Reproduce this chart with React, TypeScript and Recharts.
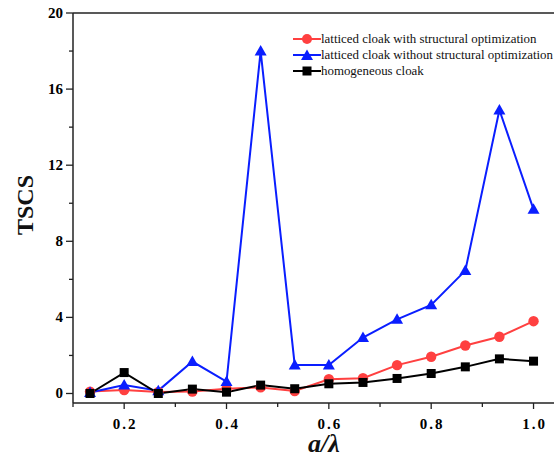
import React from 'react';
import { LineChart, Line, XAxis, YAxis, ReferenceLine } from 'recharts';

const xValues = [0.1333, 0.2, 0.2667, 0.3333, 0.4, 0.4667, 0.5333, 0.6, 0.6667, 0.7333, 0.8, 0.8667, 0.9333, 1.0];
const withOpt = [0.1, 0.18, 0.08, 0.1, 0.25, 0.32, 0.13, 0.75, 0.8, 1.49, 1.93, 2.52, 2.98, 3.8];
const withoutOpt = [0.05, 0.45, 0.15, 1.68, 0.63, 18.0, 1.5, 1.5, 2.94, 3.9, 4.66, 6.46, 14.9, 9.68];
const homogeneous = [0.0, 1.1, 0.0, 0.23, 0.07, 0.44, 0.25, 0.51, 0.58, 0.79, 1.05, 1.4, 1.82, 1.7];

const xTicks = [0.1, 0.2, 0.3, 0.4, 0.5, 0.6, 0.7, 0.8, 0.9, 1.0];
const xLabelTicks = [0.2, 0.4, 0.6, 0.8, 1.0];
const yTicks = [0, 2, 4, 6, 8, 10, 12, 14, 16, 18, 20];
const yLabelTicks = [0, 4, 8, 12, 16, 20];

const seriesNames = [
  'latticed cloak with structural optimization',
  'latticed cloak without structural optimization',
  'homogeneous cloak',
];

const data = xValues.map((x, i) => ({
  x,
  a: withOpt[i],
  b: withoutOpt[i],
  c: homogeneous[i],
}));

const RED = '#ff4040';
const BLUE = '#0a1eff';
const BLACK = '#000000';
const FONT = '"Liberation Serif", "Times New Roman", serif';

const isLabel = (v: number, list: number[]) => list.some((t) => Math.abs(t - v) < 1e-6);

const XTick = (props: any) => {
  const { x, y, payload } = props;
  const major = isLabel(payload.value, xLabelTicks);
  return (
    <g>
      <line x1={x} x2={x} y1={y - 8} y2={y - 8 + (major ? 6 : 4)} stroke="#222" strokeWidth={1.3} />
      {major && (
        <text x={x + 1} y={y + 18} textAnchor="middle" fontFamily={FONT} fontWeight="bold" fontSize={15} letterSpacing={2} fill="#000">
          {payload.value.toFixed(1)}
        </text>
      )}
    </g>
  );
};

const YTick = (props: any) => {
  const { x, y, payload } = props;
  const major = isLabel(payload.value, yLabelTicks);
  return (
    <g>
      <line x1={x + 8} x2={x + 8 - (major ? 7 : 4)} y1={y} y2={y} stroke="#222" strokeWidth={1.3} />
      {major && (
        <text x={x - 2} y={y + 5} textAnchor="end" fontFamily={FONT} fontWeight="bold" fontSize={15} fill="#000">
          {payload.value}
        </text>
      )}
    </g>
  );
};

const CircleDot = (props: any) => {
  const { cx, cy } = props;
  if (cx == null || cy == null) return <g />;
  return <circle cx={cx} cy={cy} r={5.2} fill={RED} stroke="none" />;
};
const TriDot = (props: any) => {
  const { cx, cy } = props;
  if (cx == null || cy == null) return <g />;
  const s = 6;
  return <polygon points={`${cx},${cy - s} ${cx - s},${cy + s * 0.75} ${cx + s},${cy + s * 0.75}`} fill={BLUE} stroke="none" />;
};
const SquareDot = (props: any) => {
  const { cx, cy } = props;
  if (cx == null || cy == null) return <g />;
  return <rect x={cx - 4.5} y={cy - 4.5} width={9} height={9} fill={BLACK} stroke="none" />;
};

const LegendIcon = ({ color, kind }: { color: string; kind: string }) => (
  <svg width={28} height={12} style={{ display: 'block', flex: 'none' }}>
    <line x1={0} x2={28} y1={6} y2={6} stroke={color} strokeWidth={2} />
    {kind === 'circle' && <circle cx={14} cy={6} r={5} fill={color} />}
    {kind === 'tri' && <polygon points="14,0.5 8,11 20,11" fill={color} />}
    {kind === 'square' && <rect x={9.5} y={1.5} width={9} height={9} fill={color} />}
  </svg>
);

const LegendBox = () => {
  const items = [
    { color: RED, kind: 'circle', name: seriesNames[0] },
    { color: BLUE, kind: 'tri', name: seriesNames[1] },
    { color: BLACK, kind: 'square', name: seriesNames[2] },
  ];
  return (
    <div style={{ position: 'absolute', left: 293, top: 31, fontFamily: FONT, fontSize: 12.9, color: '#111', lineHeight: '16px' }}>
      {items.map((it) => (
        <div key={it.name} style={{ whiteSpace: 'nowrap', display: 'flex', alignItems: 'center', height: 16 }}>
          <LegendIcon color={it.color} kind={it.kind} />
          <span>{it.name}</span>
        </div>
      ))}
    </div>
  );
};

export default function App() {
  return (
    <div style={{ position: 'absolute', left: 0, top: 0, width: 554, height: 457, background: '#fff', overflow: 'hidden' }}>
      <LineChart width={554} height={457} data={data} margin={{ top: 13, right: 0, bottom: 0, left: 0 }}>
        <XAxis
          dataKey="x"
          type="number"
          domain={[0.1, 1.04]}
          ticks={xTicks}
          interval={0}
          height={54}
          axisLine={{ stroke: '#222', strokeWidth: 1.5 }}
          tickLine={false}
          tick={<XTick />}
          allowDataOverflow
          label={(p: any) => {
            const vb = p.viewBox;
            return (
              <text x={324} y={vb.y + 49} textAnchor="middle" fontFamily={FONT} fontSize={26} fontWeight="bold" fontStyle="italic" fill="#111">
                a/λ
              </text>
            );
          }}
        />
        <YAxis
          type="number"
          domain={[-0.5, 20]}
          ticks={yTicks}
          interval={0}
          width={73}
          axisLine={{ stroke: '#222', strokeWidth: 1.5 }}
          tickLine={false}
          tick={<YTick />}
          allowDataOverflow
          label={() => {
            const cx = 25;
            const cy = 205;
            return (
              <text x={cx} y={cy} transform={`rotate(-90 ${cx} ${cy})`} textAnchor="middle" dominantBaseline="central" fontFamily={FONT} fontSize={24} fontWeight="bold" fill="#111">
                TSCS
              </text>
            );
          }}
        />
        <ReferenceLine y={20} stroke="#222" strokeWidth={1.5} />
        <Line dataKey="a" name={seriesNames[0]} stroke={RED} strokeWidth={2} dot={<CircleDot />} activeDot={false} isAnimationActive={false} />
        <Line dataKey="b" name={seriesNames[1]} stroke={BLUE} strokeWidth={2} dot={<TriDot />} activeDot={false} isAnimationActive={false} />
        <Line dataKey="c" name={seriesNames[2]} stroke={BLACK} strokeWidth={2} dot={<SquareDot />} activeDot={false} isAnimationActive={false} />
      </LineChart>
      <LegendBox />
    </div>
  );
}
